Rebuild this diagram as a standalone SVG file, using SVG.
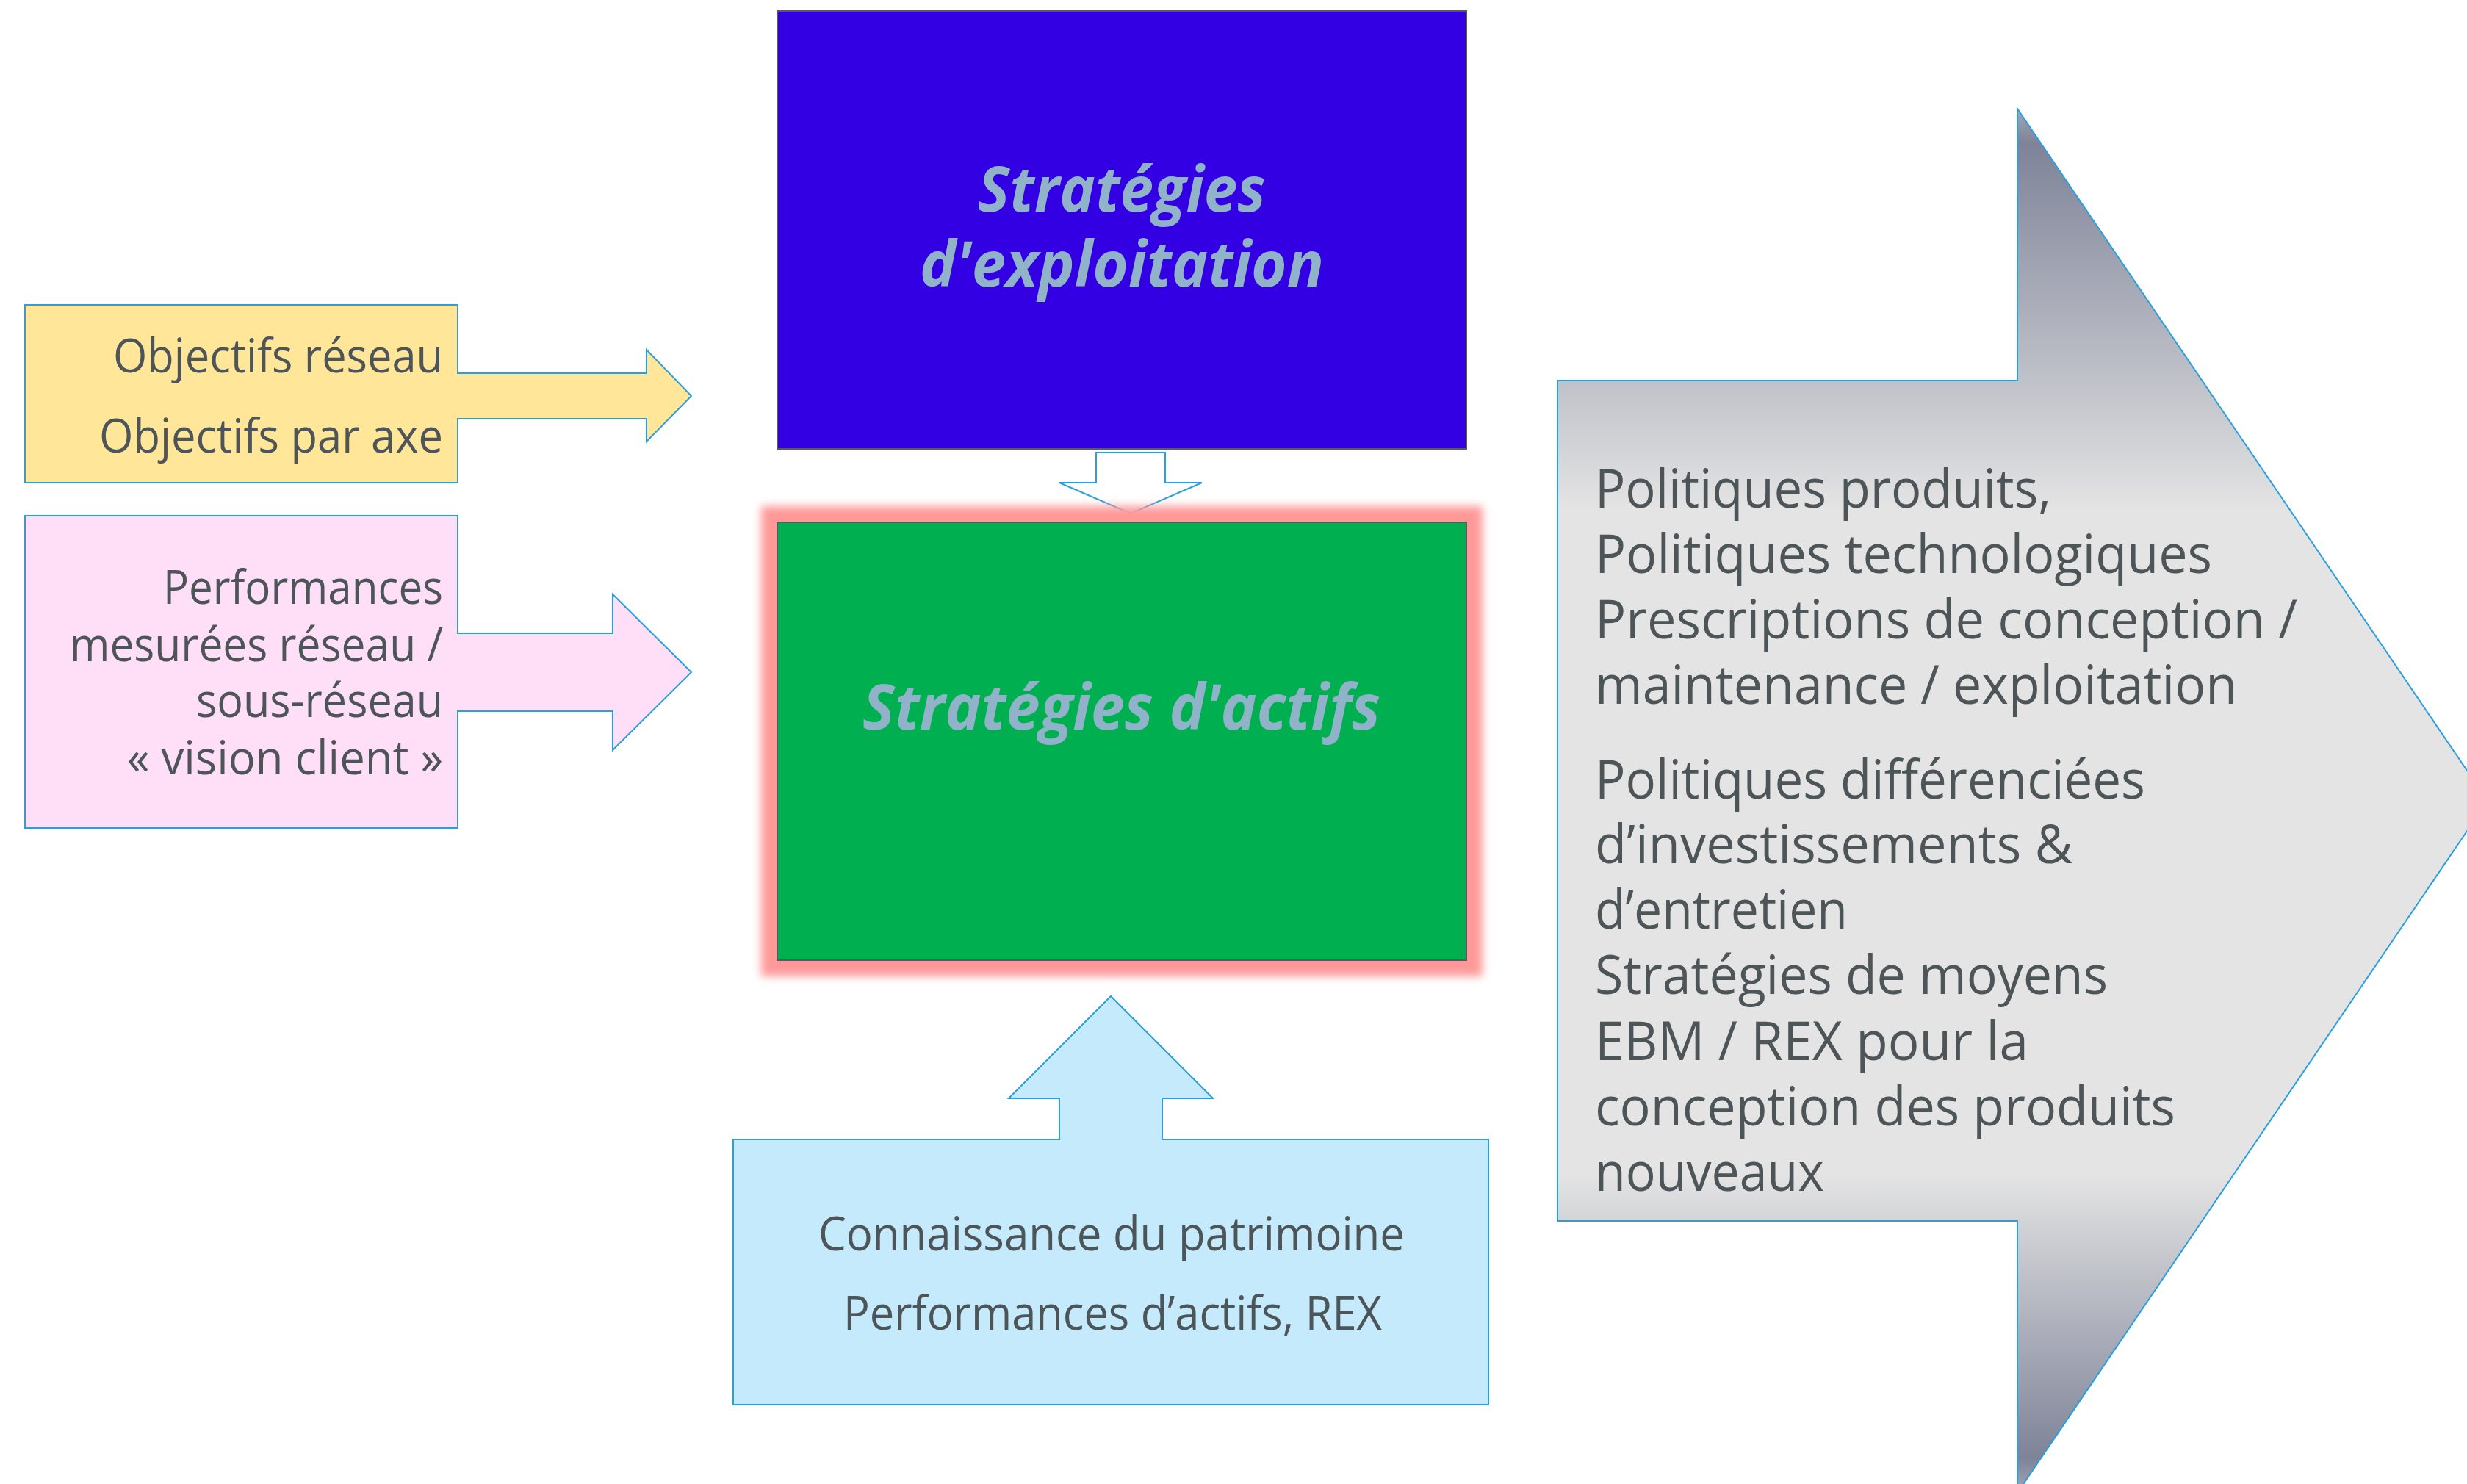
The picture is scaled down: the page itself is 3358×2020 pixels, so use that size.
<svg xmlns="http://www.w3.org/2000/svg" width="3358" height="2020" viewBox="0 0 3358 2020">
  <style>
    .callout { stroke: #2A9FDD; stroke-width: 2; stroke-linejoin: miter; }
    .body { font-family: "Open Sans", "Liberation Sans", sans-serif; font-size: 64px; fill: #4D5558; }
    .big { font-family: "Open Sans", "Liberation Sans", sans-serif; font-size: 74px; fill: #4D5558; }
    .title { font-family: "Open Sans", "Liberation Sans", sans-serif; font-size: 86px; font-weight: bold; font-style: italic; fill: #91B3C9; }
    .box { stroke: #5A5A5A; stroke-width: 2; }
  </style>
  <defs>
    <linearGradient id="grayGrad" gradientUnits="userSpaceOnUse" x1="0" y1="148" x2="0" y2="2032">
      <stop offset="0" stop-color="#A3A7B3"/>
      <stop offset="0.025" stop-color="#7E8398"/>
      <stop offset="0.29" stop-color="#E4E4E4"/>
      <stop offset="0.77" stop-color="#E4E4E4"/>
      <stop offset="0.975" stop-color="#7E8398"/>
      <stop offset="1" stop-color="#A3A7B3"/>
    </linearGradient>
    <filter id="glow" x="-10%" y="-10%" width="120%" height="120%">
      <feGaussianBlur stdDeviation="6"/>
    </filter>
  </defs>
  <rect width="3358" height="2020" fill="#FFFFFF"/>

  <g id="connectors">
    <polygon id="arrow-down" points="1492,616 1586,616 1586,657 1636,657 1539,699 1442,657 1492,657" fill="#FFFFFF" class="callout"/>
  </g>

  <g id="node-objectifs">
    <polygon class="callout" fill="#FFE699" points="34,415 623,415 623,508 880,508 880,476 941,539 880,601 880,570 623,570 623,657 34,657"/>
    <text class="body" x="154" y="507" textLength="449" lengthAdjust="spacingAndGlyphs">Objectifs réseau</text>
    <text class="body" x="135" y="616" textLength="468" lengthAdjust="spacingAndGlyphs">Objectifs par axe</text>
  </g>

  <g id="node-performances">
    <polygon class="callout" fill="#FFDEF8" points="34,702 623,702 623,862 834,862 834,809 941,915 834,1021 834,968 623,968 623,1127 34,1127"/>
    <text class="body" x="222" y="822" textLength="381" lengthAdjust="spacingAndGlyphs">Performances</text>
    <text class="body" x="95" y="900" textLength="508" lengthAdjust="spacingAndGlyphs">mesurées réseau /</text>
    <text class="body" x="267" y="976" textLength="336" lengthAdjust="spacingAndGlyphs">sous-réseau</text>
    <text class="body" x="173" y="1054" textLength="430" lengthAdjust="spacingAndGlyphs">« vision client »</text>
  </g>

  <g id="node-exploitation">
    <rect class="box" x="1058" y="15" width="938" height="596" fill="#3200E3"/>
    <text class="title" x="1331" y="288" textLength="392" lengthAdjust="spacingAndGlyphs">Stratégies</text>
    <text class="title" x="1252" y="390" textLength="550" lengthAdjust="spacingAndGlyphs">d'exploitation</text>
  </g>

  <g id="node-actifs">
    <rect x="1036" y="689" width="982" height="640" fill="#FF9999" filter="url(#glow)"/>
    <rect class="box" x="1058" y="711" width="938" height="596" fill="#00AF50"/>
    <text class="title" x="1174" y="993" textLength="705" lengthAdjust="spacingAndGlyphs">Stratégies d'actifs</text>
  </g>

  <g id="node-patrimoine">
    <polygon class="callout" fill="#C4EAFB" points="998,1551 1442,1551 1442,1495 1373,1495 1512,1356 1651,1495 1582,1495 1582,1551 2026,1551 2026,1912 998,1912"/>
    <text class="body" x="1114" y="1702" textLength="798" lengthAdjust="spacingAndGlyphs">Connaissance du patrimoine</text>
    <text class="body" x="1148" y="1810" textLength="733" lengthAdjust="spacingAndGlyphs">Performances d’actifs, REX</text>
  </g>

  <g id="node-politiques">
    <polygon class="callout" fill="url(#grayGrad)" points="2120,518 2746,518 2746,148 3386,1090 2746,2032 2746,1662 2120,1662"/>
    <text class="big" x="2171" y="691" textLength="621" lengthAdjust="spacingAndGlyphs">Politiques produits,</text>
    <text class="big" x="2171" y="780" textLength="840" lengthAdjust="spacingAndGlyphs">Politiques technologiques</text>
    <text class="big" x="2171" y="869" textLength="956" lengthAdjust="spacingAndGlyphs">Prescriptions de conception /</text>
    <text class="big" x="2171" y="958" textLength="874" lengthAdjust="spacingAndGlyphs">maintenance / exploitation</text>
    <text class="big" x="2171" y="1087" textLength="749" lengthAdjust="spacingAndGlyphs">Politiques différenciées</text>
    <text class="big" x="2171" y="1175" textLength="650" lengthAdjust="spacingAndGlyphs">d’investissements &amp;</text>
    <text class="big" x="2171" y="1264" textLength="344" lengthAdjust="spacingAndGlyphs">d’entretien</text>
    <text class="big" x="2171" y="1353" textLength="698" lengthAdjust="spacingAndGlyphs">Stratégies de moyens</text>
    <text class="big" x="2171" y="1443" textLength="590" lengthAdjust="spacingAndGlyphs">EBM / REX pour la</text>
    <text class="big" x="2171" y="1532" textLength="790" lengthAdjust="spacingAndGlyphs">conception des produits</text>
    <text class="big" x="2171" y="1621" textLength="312" lengthAdjust="spacingAndGlyphs">nouveaux</text>
  </g>
</svg>
